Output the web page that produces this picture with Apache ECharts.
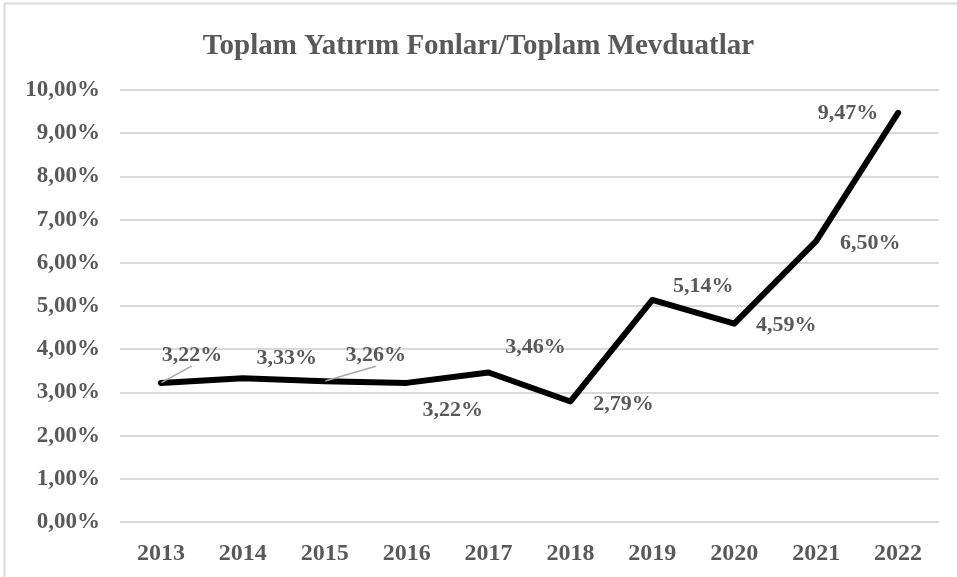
<!DOCTYPE html>
<html>
<head>
<meta charset="utf-8">
<script src="https://cdn.jsdelivr.net/npm/echarts@6/dist/echarts.min.js"></script>
<style>
  html, body { margin: 0; padding: 0; background: #fff; }
  #chart { width: 957px; height: 577px; }
</style>
</head>
<body>
<div id="chart"></div>
<script>
// veri
const years = ['2013', '2014', '2015', '2016', '2017', '2018', '2019', '2020', '2021', '2022'];
const ratio = [3.22, 3.33, 3.26, 3.22, 3.46, 2.79, 5.14, 4.59, 6.50, 9.47];

// etiket kaydirmalari (piksel), ayri tutuldu
const labelShift = [[31, -28], [44, -20], [51, -26], [46, 27], [47, -25], [53, 3], [51, -14], [52, 2], [54, 2], [-50, 0]];
const withLeader = [true, false, true, false, false, false, false, false, false, false];

const serif = '"Liberation Serif", "DejaVu Serif", serif';
const txt = '#595959';

const fmt = v => v.toFixed(2).replace('.', ',') + '%';

const chart = echarts.init(document.getElementById('chart'));

const seriesData = ratio.map((v, i) => ({
  value: v,
  label: { offset: labelShift[i] },
  labelLine: { show: withLeader[i], lineStyle: { color: '#a6a6a6', width: 1.5 } }
}));

chart.setOption({
  animation: false,
  backgroundColor: '#fff',
  title: {
    text: 'Toplam Yatırım Fonları/Toplam Mevduatlar',
    left: 'center',
    top: 27,
    textStyle: { fontFamily: serif, fontWeight: 'bold', fontSize: 29, color: txt }
  },
  graphic: [{
    type: 'rect',
    shape: { x: 4.5, y: 3.5, width: 980, height: 600 },
    style: { fill: null, stroke: '#d9d9d9', lineWidth: 2 },
    silent: true
  }],
  grid: { left: 120, right: 18, top: 90, bottom: 55 },
  xAxis: {
    type: 'category',
    data: years,
    axisLine: { show: false },
    axisTick: { show: false },
    axisLabel: { margin: 20, fontFamily: serif, fontWeight: 'bold', fontSize: 24, color: txt }
  },
  yAxis: {
    type: 'value',
    min: 0,
    max: 10,
    interval: 1,
    axisLine: { show: false },
    axisTick: { show: false },
    splitLine: { lineStyle: { color: '#d9d9d9', width: 2 } },
    axisLabel: {
      margin: 20,
      fontFamily: serif, fontWeight: 'bold', fontSize: 23, color: txt,
      formatter: fmt
    }
  },
  series: [{
    type: 'line',
    data: seriesData,
    showSymbol: true,
    symbol: 'circle',
    symbolSize: 1,
    itemStyle: { color: 'rgba(0,0,0,0)', borderWidth: 0 },
    lineStyle: { color: '#000', width: 6, join: 'round', cap: 'round' },
    label: {
      show: true,
      position: 'inside',
      fontFamily: serif, fontWeight: 'bold', fontSize: 22, color: txt,
      formatter: p => fmt(p.value)
    }
  }]
});
</script>
</body>
</html>
